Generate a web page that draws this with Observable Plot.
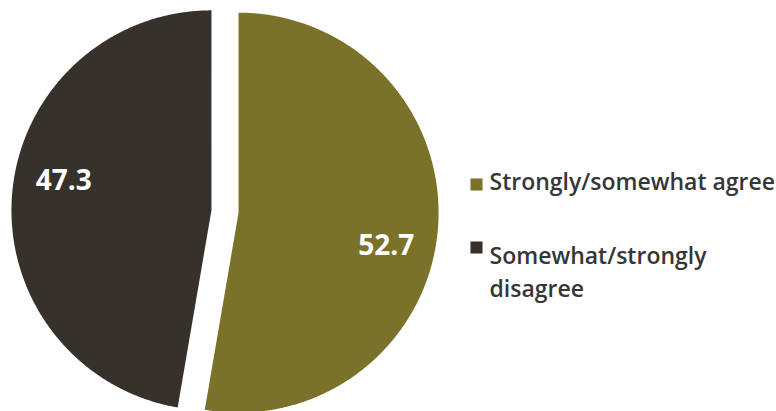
<!DOCTYPE html>
<html>
<head>
<meta charset="utf-8">
<script src="https://cdn.jsdelivr.net/npm/d3@7"></script>
<script src="https://cdn.jsdelivr.net/npm/@observablehq/plot@0.6"></script>
<style>
  html, body { margin: 0; padding: 0; background: #ffffff; }
  #chart svg { display: block; }
</style>
</head>
<body>
<div id="chart"></div>
<script>
// ---- data ----
const categories = ["Strongly/somewhat agree", "Somewhat/strongly disagree"];
const values = [52.7, 47.3];
const valueLabels = ["52.7", "47.3"];
const legendLabels = ["Strongly/somewhat agree", "Somewhat/strongly\ndisagree"];
const colors = ["#7a7229", "#36312a"];

// ---- geometry derived from data (unit radius pie) ----
const W = 776, H = 411;
const R = 200;            // pixel radius
const cx = 224.5, cy = 211; // pixel centre of the pie
const explode = 0.068;    // explode offset in radius units
const labelR = 0.755, labelRot = 7 * Math.PI / 180;

const arcs = d3.pie().sort(null).value(d => d)(values);
const points = [];
const labels = [];
arcs.forEach((a, i) => {
  const mid = (a.startAngle + a.endAngle) / 2;
  const ox = explode * Math.sin(mid), oy = explode * Math.cos(mid);
  points.push({key: categories[i], x: ox, y: oy});
  const n = Math.max(2, Math.ceil((a.endAngle - a.startAngle) / (0.25 * Math.PI / 180)));
  for (let k = 0; k <= n; ++k) {
    const t = a.startAngle + (a.endAngle - a.startAngle) * k / n;
    points.push({key: categories[i], x: ox + Math.sin(t), y: oy + Math.cos(t)});
  }
  points.push({key: categories[i], x: ox, y: oy});
  const la = mid + labelRot;
  labels.push({key: categories[i], text: valueLabels[i], x: ox + labelR * Math.sin(la), y: oy + labelR * Math.cos(la)});
});

const legendFont = "'Open Sans', sans-serif";
const chart = Plot.plot({
  width: W,
  height: H,
  margin: 0,
  x: {domain: [-cx / R, (W - cx) / R], axis: null},
  y: {domain: [-(H - cy) / R, cy / R], axis: null},
  color: {domain: categories, range: colors},
  style: {background: "#ffffff"},
  marks: [
    Plot.line(points, {x: "x", y: "y", z: "key", fill: "key", stroke: "none", curve: "linear"}),
    Plot.text(labels, {x: "x", y: "y", dy: 2, text: "text", fill: "#ffffff", fontSize: 28, fontWeight: "bold", fontFamily: "'Open Sans', sans-serif"}),
    // legend
    Plot.dot([categories[0]], {frameAnchor: "top-left", dx: 476, dy: 184, symbol: "square", r: 6.8, fill: d => d, stroke: "none"}),
    Plot.dot([categories[1]], {frameAnchor: "top-left", dx: 476, dy: 247, symbol: "square", r: 6.8, fill: d => d, stroke: "none"}),
    Plot.text([legendLabels[0]], {frameAnchor: "top-left", dx: 489, dy: 182, text: d => d, textAnchor: "start", lineAnchor: "middle", fill: "#363636", fontSize: 23, fontWeight: 600, fontFamily: legendFont}),
    Plot.text([legendLabels[1]], {frameAnchor: "top-left", dx: 489, dy: 240, text: d => d, textAnchor: "start", lineAnchor: "top", lineHeight: 1.43, fill: "#363636", fontSize: 23, fontWeight: 600, fontFamily: legendFont})
  ]
});
document.getElementById("chart").appendChild(chart);
</script>
</body>
</html>
